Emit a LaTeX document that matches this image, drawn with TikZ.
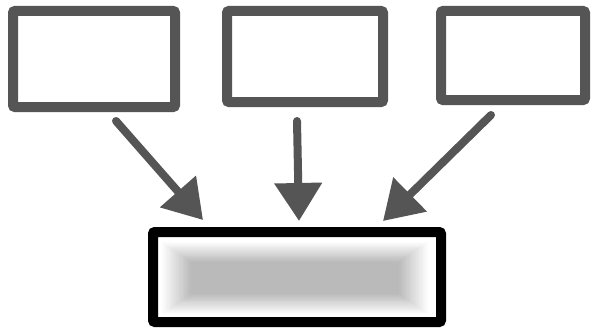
\documentclass[tikz,border=0pt]{standalone}
\usetikzlibrary{arrows.meta}
\begin{document}
\begin{tikzpicture}[x=1pt,y=-1pt,
  srcbox/.style={draw=boxgray,line width=10pt,rounded corners=2pt},
  flow/.style={draw=boxgray,line width=8pt,line cap=round,-{Triangle[length=38pt,width=46pt]}}]
\definecolor{boxgray}{HTML}{555555}
\useasboundingbox (0,0) rectangle (591,329);
\fill[white] (0,0) rectangle (591,329);
% top boxes
\draw[srcbox] (13,11) rectangle (175,107);
\node[inner sep=0pt,minimum width=162pt,minimum height=96pt] (b1) at (94,59) {};
\draw[srcbox] (227,11) rectangle (383,102);
\node[inner sep=0pt,minimum width=156pt,minimum height=91pt] (b2) at (305,56.5) {};
\draw[srcbox] (441,11) rectangle (585,100);
\node[inner sep=0pt,minimum width=144pt,minimum height=89pt] (b3) at (513,55.5) {};
% bottom box with blurred fill
\foreach \i in {0,...,22}{
  \fill[black,opacity=0.012] (162+\i*1.3,242+\i*0.9) rectangle (428-\i*1.3,314-\i*0.9);
}
\draw[black,line width=10pt,rounded corners=2pt] (153,232) rectangle (441,322);
\node[inner sep=0pt,minimum width=288pt,minimum height=90pt] (out) at (297,277) {};
% arrows
\coordinate (s1) at (116,121);
\coordinate (t1) at (203,220);
\coordinate (s2) at (297,121);
\coordinate (t2) at (299,221);
\coordinate (s3) at (491,115);
\coordinate (t3) at (383,221);
\draw[flow] (s1) -- (t1);
\draw[flow] (s2) -- (t2);
\draw[flow] (s3) -- (t3);
\end{tikzpicture}
\end{document}
